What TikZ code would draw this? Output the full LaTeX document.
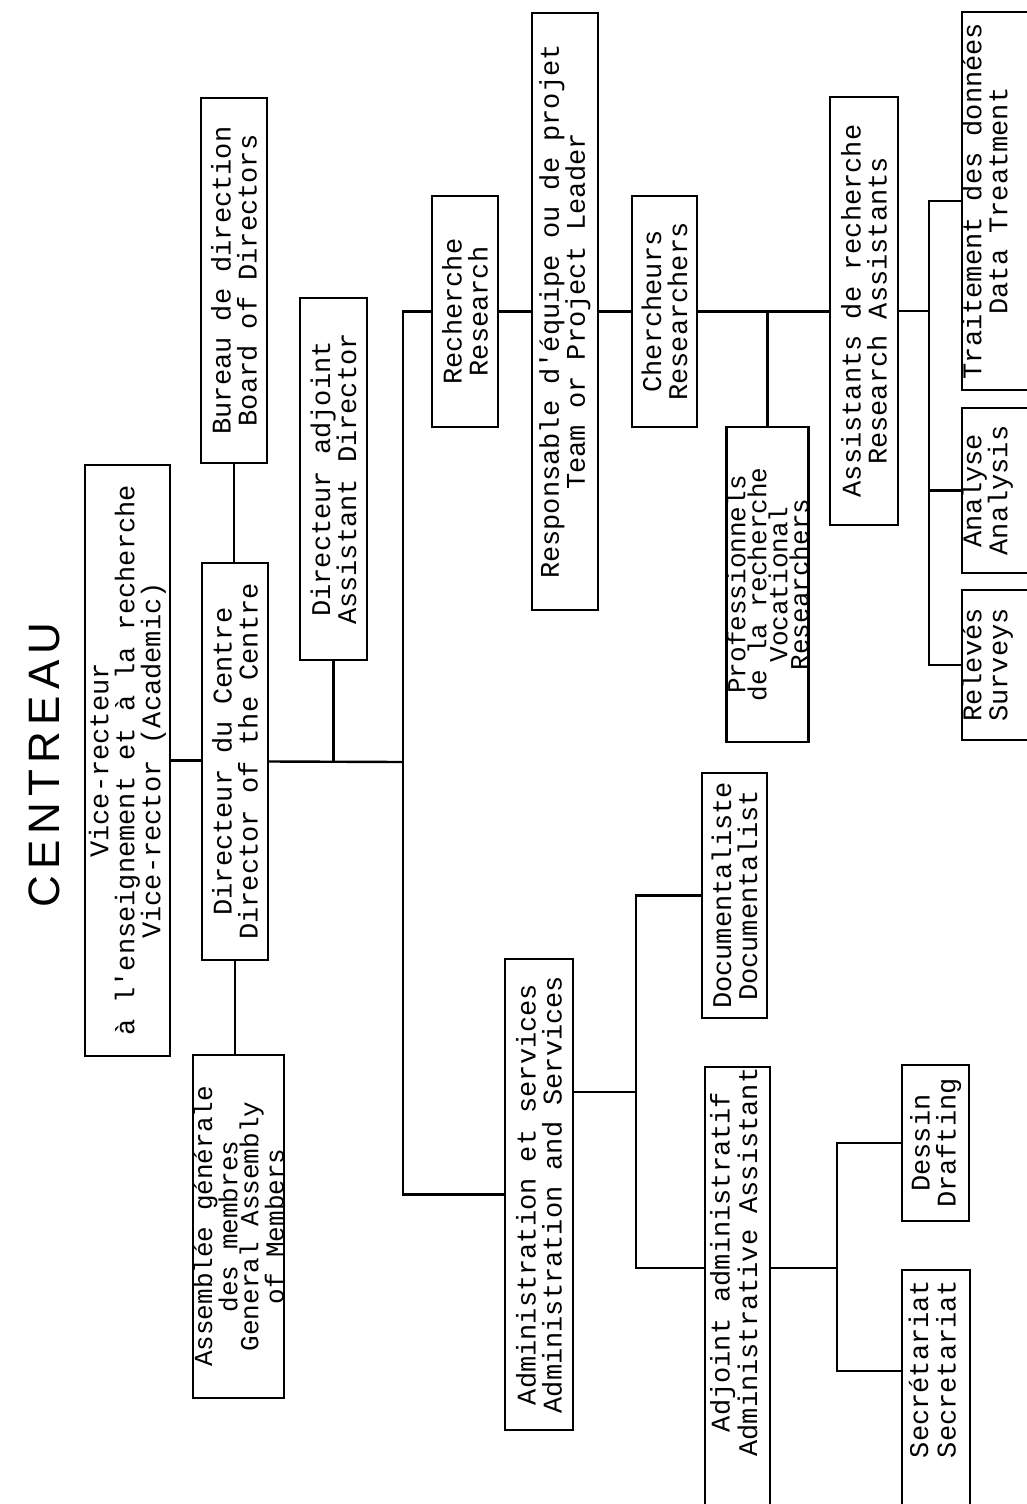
\documentclass[tikz,border=0pt]{standalone}
\usepackage{fontspec}
\newfontfamily\typew{Liberation Mono}
\newfontfamily\titlefont[LetterSpace=14]{Liberation Sans}

\tikzset{
    orgbox/.style = {draw, rotate = 90, align = center, inner sep = 0pt, line width = 2.2pt,
        font = {\typew\fontsize{27}{26}\selectfont}},
    tightbox/.style = {orgbox, font = {\typew\fontsize{26}{21}\selectfont}},
    edgebox/.style = {orgbox, text depth = 25pt},
    link/.style = {line width = 2.4pt}
}

\begin{document}
\begin{tikzpicture}[x = 1pt, y = -1pt]
\useasboundingbox (0,0) rectangle (1027,1504);
\node[rotate = 90, font = {\titlefont\fontsize{44}{44}\selectfont}] (title) at (44,765) {CENTREAU};
% top of the chart
\node[orgbox, minimum width = 591pt, minimum height = 85pt] (vice) at (127.5,760.5) {Vice-recteur\\à l'enseignement et à la recherche\\Vice-rector (Academic)};
\node[orgbox, minimum width = 365pt, minimum height = 66pt] (bureau) at (234,280.5) {Bureau de direction\\Board of Directors};
\node[orgbox, minimum width = 397pt, minimum height = 66pt] (dir) at (235,761.5) {Directeur du Centre\\Director of the Centre};
\node[tightbox, minimum width = 343pt, minimum height = 85pt] (assem) at (238.5,1226.5) {Assemblée générale\\des membres\\General Assembly\\of Members};
\node[orgbox, minimum width = 362pt, minimum height = 67pt] (adj) at (333.5,479) {Directeur adjoint\\Assistant Director};
% research branch
\node[orgbox, minimum width = 231pt, minimum height = 66pt] (rech) at (465,311.5) {Recherche\\Research};
\node[orgbox, minimum width = 597pt, minimum height = 66pt] (resp) at (565,311.5) {Responsable d'équipe ou de projet\\Team or Project Leader};
\node[orgbox, minimum width = 231pt, minimum height = 65pt] (cherch) at (664.5,311.5) {Chercheurs\\Researchers};
\node[tightbox, minimum width = 315pt, minimum height = 81pt] (prof) at (767.5,584.5) {Professionnels\\de la recherche\\Vocational\\Researchers};
\node[orgbox, minimum width = 428pt, minimum height = 68pt] (asst) at (864,311) {Assistants de recherche\\Research Assistants};
\node[edgebox, minimum width = 378pt, minimum height = 70pt] (trait) at (997,201) {Traitement des données\\Data Treatment};
\node[edgebox, minimum width = 165pt, minimum height = 70pt] (analyse) at (997,490.5) {Analyse\\Analysis};
\node[edgebox, minimum width = 150pt, minimum height = 70pt] (releves) at (997,665) {Relevés\\Surveys};
% administration branch
\node[orgbox, minimum width = 471pt, minimum height = 68pt] (admin) at (539,1194.5) {Administration et services\\Administration and Services};
\node[orgbox, minimum width = 245pt, minimum height = 65pt] (doc) at (734.5,895.5) {Documentaliste\\Documentalist};
\node[orgbox, minimum width = 478pt, minimum height = 65pt] (adjadm) at (737.5,1306) {\hspace*{88pt}\begin{tabular}{@{}c@{}}Adjoint administratif\\Administrative Assistant\end{tabular}};
\node[orgbox, minimum width = 156pt, minimum height = 67pt] (dessin) at (935.5,1143) {Dessin\\Drafting};
\node[orgbox, minimum width = 260pt, minimum height = 68pt] (secr) at (936,1400) {\hspace*{62pt}\begin{tabular}{@{}c@{}}Secrétariat\\Secretariat\end{tabular}};

% junctions
\coordinate (trunk) at (403,762);
\coordinate (rasplit) at (929,311);
\coordinate (adsplit) at (636,1092);
\coordinate (adlvl) at (636,1268);
\coordinate (secsplit) at (837,1268);
\coordinate (seclvl) at (837,1371);

% lines
\draw[link] (bureau.west) -- (bureau.west |- dir.east);
\draw[link] (dir.west) -- (dir.west |- assem.east);
\draw[link] (vice.south) -- (dir.north |- vice.south);
\draw[link] (dir.south) -- (trunk);
\draw[link] (adj.west) -- (adj.west |- trunk);
\draw[link] (rech.north) -| (trunk) |- (admin.north);
\draw[link] (rech.south) -- (resp.north);
\draw[link] (resp.south) -- (cherch.north);
\draw[link] (cherch.south) -- (asst.north |- cherch.south);
\draw[link] (prof.east) -- (prof.east |- cherch.south);
\draw[link] (asst.south) -- (rasplit);
\draw[link] (trait.north) -| (rasplit) |- (releves.north);
\draw[link] (analyse.north) -- (analyse.north -| rasplit);
\draw[link] (admin.south |- adsplit) -- (adsplit);
\draw[link] (doc.north) -| (adlvl) -- (adjadm.north |- adlvl);
\draw[link] (adjadm.south |- secsplit) -- (secsplit);
\draw[link] (dessin.north) -| (seclvl) -- (secr.north |- seclvl);

\end{tikzpicture}
\end{document}
